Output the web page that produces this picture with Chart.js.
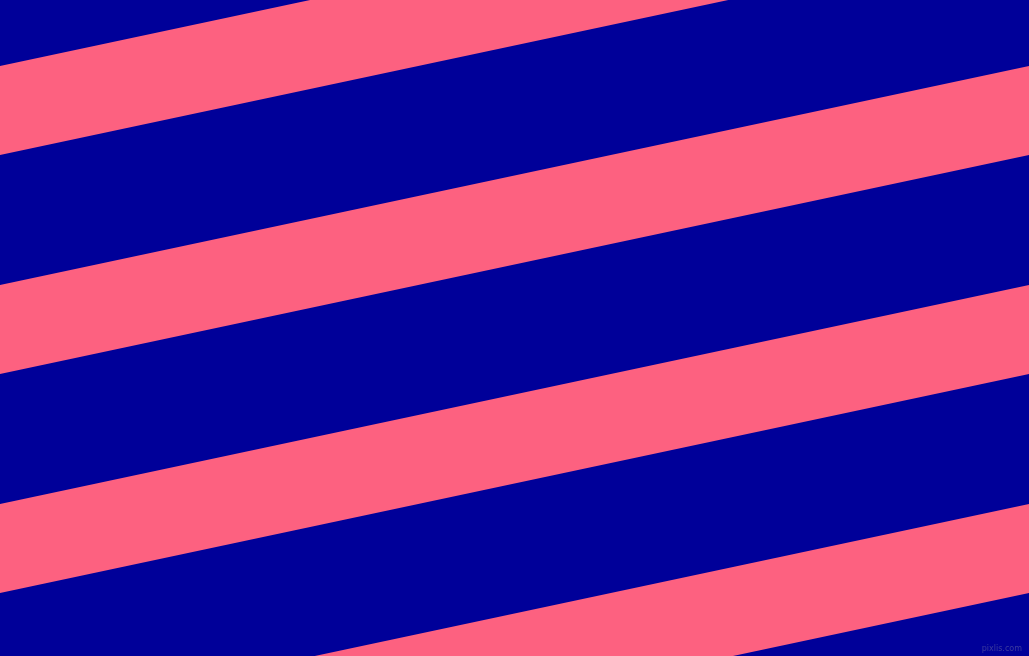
<!DOCTYPE html>
<html>
<head>
<meta charset="utf-8">
<script src="https://cdn.jsdelivr.net/npm/chart.js@4/dist/chart.umd.min.js"></script>
<style>
  html, body { margin: 0; padding: 0; background: #000099; overflow: hidden; }
  #wrap { width: 1029px; height: 656px; position: relative; }
</style>
</head>
<body>
<div id="wrap"><canvas id="chart" aria-label="diagonal stripes" role="img"></canvas></div>
<script>
// x range of the picture
const xEnds = [0, 1029];
// each stripe's top / bottom edge, at left and at right end
const stripeTopLeft = [66, 285, 504, 723];
const stripeBottomLeft = [155, 374, 593, 812];
const stripeTopRight = [-153, 66, 285, 504];
const stripeBottomRight = [-64, 155, 374, 593];

const stripeColor = '#fd6180';
const baseColor = '#000099';

const datasets = [];
stripeTopLeft.forEach((top, i) => {
    // top edge first, then bottom edge filled back to it
    datasets.push({
        data: [{x: xEnds[0], y: top}, {x: xEnds[1], y: stripeTopRight[i]}],
        borderWidth: 0,
        pointRadius: 0,
        fill: false
    });
    datasets.push({
        data: [{x: xEnds[0], y: stripeBottomLeft[i]}, {x: xEnds[1], y: stripeBottomRight[i]}],
        borderWidth: 0,
        pointRadius: 0,
        backgroundColor: stripeColor,
        fill: '-1'
    });
});

// plain background + the little site mark bottom right
const backdrop = {
    id: 'backdrop',
    beforeDraw(chart) {
        const {ctx, width, height} = chart;
        ctx.save();
        ctx.fillStyle = baseColor;
        ctx.fillRect(0, 0, width, height);
        ctx.restore();
    },
    afterDraw(chart) {
        const {ctx, width, height} = chart;
        ctx.save();
        ctx.font = '8px "DejaVu Sans"';
        ctx.fillStyle = '#3b3b9e';
        ctx.textAlign = 'right';
        ctx.textBaseline = 'bottom';
        ctx.fillText('pixlis.com', width - 7, height - 3);
        ctx.restore();
    }
};

new Chart(document.getElementById('chart'), {
    type: 'line',
    data: { datasets },
    options: {
        animation: false,
        responsive: true,
        maintainAspectRatio: false,
        layout: { padding: 0 },
        plugins: { legend: { display: false }, tooltip: { enabled: false } },
        scales: {
            x: { type: 'linear', min: 0, max: 1029, display: false },
            y: { type: 'linear', min: 0, max: 656, reverse: true, display: false }
        }
    },
    plugins: [backdrop]
});
</script>
</body>
</html>
